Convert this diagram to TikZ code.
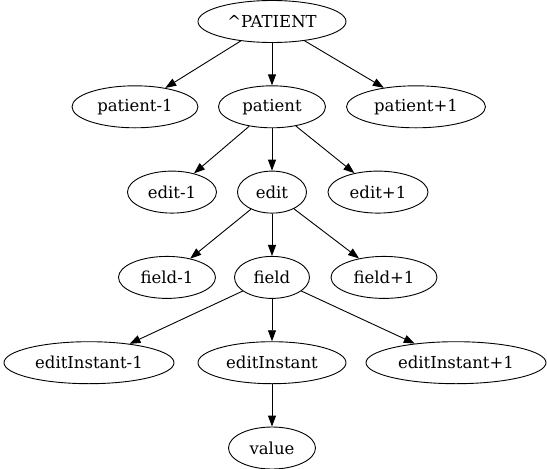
\documentclass[tikz,border=0pt]{standalone}
\usepackage{fontspec}
\setmainfont{DejaVu Serif}
\usetikzlibrary{shapes.geometric}
\usetikzlibrary{arrows.meta}
\usetikzlibrary{positioning}

\begin{document}
\begin{tikzpicture}[>={Triangle[length=11pt,width=8pt]},node distance=85.3pt,on grid,line width=0.9pt,
	every node/.style={draw, ellipse, inner sep=0pt, minimum height=42pt, font=\fontsize{16.5}{20}\selectfont}]
	\useasboundingbox (-272pt,21.5pt) rectangle (275pt,-447.5pt);
	\node[minimum width=148pt] (root) at (0,0) {\textasciicircum PATIENT};
	 \node[minimum width=107pt] (pat) [below=of root] {patient};
	 \node[minimum width=126pt] (patm) [left=137pt of pat] {patient-1};
	 \node[minimum width=139pt] (patp) [right=144pt of pat] {patient+1};
	 \node[minimum width=69pt] (ed) [below=of pat] {edit};
	 \node[minimum width=89pt] (edm) [left=100pt of ed] {edit-1};
	 \node[minimum width=100pt] (edp) [right=106pt of ed] {edit+1};
	 \node[minimum width=75pt] (fld) [below=of ed] {field};
	 \node[minimum width=97pt] (fldm) [left=105pt of fld] {field-1};
	 \node[minimum width=106pt] (fldp) [right=112pt of fld] {field+1};
	 \node[minimum width=148pt] (inst) [below=of fld] {editInstant};
	 \node[minimum width=170pt] (instm) [left=183pt of inst] {editInstant-1};
	 \node[minimum width=180pt] (instp) [right=184pt of inst] {editInstant+1};
	 \node[minimum width=87pt] (val) [below=of inst] {value};

	  \path[->]
	    (root) edge (patm)
	    (root) edge (pat)
	    (root) edge (patp)
	    (pat) edge (edm)
	    (pat) edge (ed)
	    (pat) edge (edp)
	    (ed) edge (fldm)
	    (ed) edge (fld)
	    (ed) edge (fldp)
	    (fld) edge (instm)
	    (fld) edge (inst)
	    (fld) edge (instp)
	    (inst) edge (val)
	  ;
\end{tikzpicture}
\end{document}
